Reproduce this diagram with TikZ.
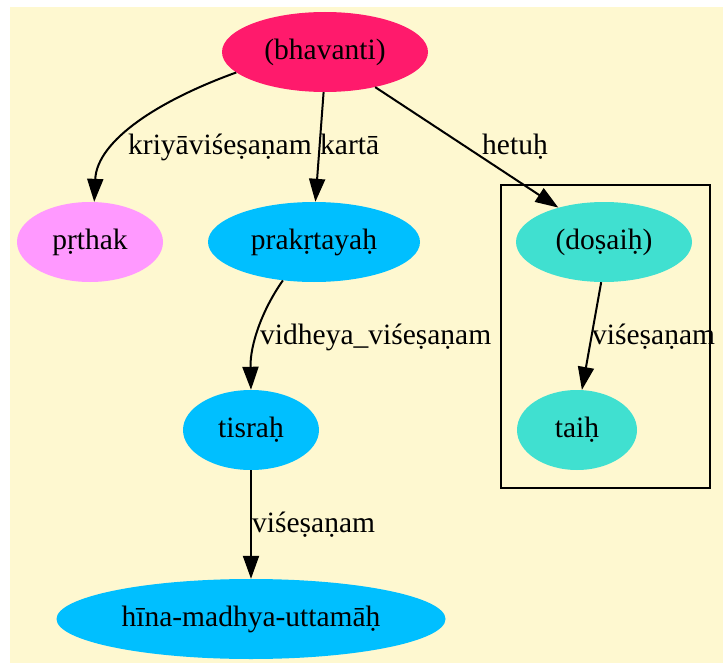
\documentclass[tikz,border=0pt]{standalone}
\usepackage{fontspec}
\setmainfont{Liberation Serif}
\usetikzlibrary{shapes.geometric,arrows.meta}
\definecolor{bgc}{RGB}{254,248,208}
\definecolor{pinkc}{RGB}{255,26,108}
\definecolor{violc}{RGB}{255,153,255}
\definecolor{skyc}{RGB}{0,191,255}
\definecolor{turqc}{RGB}{64,224,208}
\tikzset{
  gnode/.style={ellipse, inner sep=0pt, font=\fontsize{29.5}{32}\selectfont},
  edge/.style={line width=2pt, -{Triangle[length=23pt,width=16pt]}},
  elabel/.style={anchor=base west, inner sep=0pt, font=\fontsize{29.5}{32}\selectfont},
}
\begin{document}
\begin{tikzpicture}[x=1pt,y=-1pt]
\useasboundingbox (0,0) rectangle (723,666);
\fill[white] (0,0) rectangle (723,666);
\fill[bgc] (10,7) rectangle (723,663);
\draw[line width=1.6pt] (501,185) rectangle (710,488);

\node[gnode, fill=pinkc, minimum width=206pt, minimum height=80pt] (bh) at (325,52) {(bhavanti)};
\node[gnode, fill=violc, minimum width=146pt, minimum height=80pt] (pr) at (90,242) {pṛthak};
\node[gnode, fill=skyc, minimum width=212pt, minimum height=80pt] (pk) at (314,242) {prakṛtayaḥ};
\node[gnode, fill=turqc, minimum width=176pt, minimum height=80pt] (ds) at (604,242) {(doṣaiḥ)};
\node[gnode, fill=turqc, minimum width=120pt, minimum height=80pt] (ta) at (577,430) {taiḥ};
\node[gnode, fill=skyc, minimum width=136pt, minimum height=80pt] (ti) at (251,430) {tisraḥ};
\node[gnode, fill=skyc, minimum width=389pt, minimum height=80pt] (hi) at (251,619) {hīna-madhya-uttamāḥ};

\draw[edge] (bh.-167) .. controls (160,100) and (97,140) .. (pr.84);
\draw[edge] (bh.-92) -- (pk.88);
\draw[edge] (bh.-35) -- (ds.143);
\draw[edge] (pk.-129) .. controls (262,310) and (250,345) .. (ti.north);
\draw[edge] (ds.-94) -- (ta.83);
\draw[edge] (ti.south) -- (hi.north);

\node[elabel] (l1) at (128,155) {kriyāviśeṣaṇam};
\node[elabel] (l2) at (320,155) {kartā};
\node[elabel] (l3) at (482,154) {hetuḥ};
\node[elabel] (l4) at (260,344) {vidheya\_viśeṣaṇam};
\node[elabel] (l5) at (592,344) {viśeṣaṇam};
\node[elabel] (l6) at (252,532) {viśeṣaṇam};
\end{tikzpicture}
\end{document}
